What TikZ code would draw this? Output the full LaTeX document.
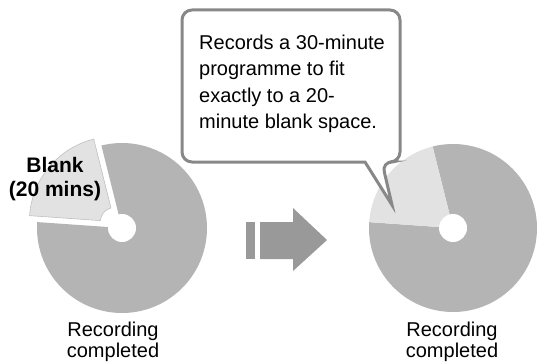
\documentclass[tikz,border=0pt]{standalone}
\usepackage{fontspec}
\setmainfont{Liberation Sans}
\definecolor{DiscGrey}{HTML}{B4B4B4}
\definecolor{BlankGrey}{HTML}{E2E2E2}
\definecolor{ArrowGrey}{HTML}{999999}
\definecolor{CalloutGrey}{HTML}{888888}
\usetikzlibrary{calc}
\tikzset{
    recorded/.style={fill=DiscGrey},
    blank/.style={fill=BlankGrey},
    hole/.style={fill=white},
    caption/.style={font=\fontsize{20}{20.5}\selectfont, align=center, inner sep=0pt},
}

\begin{document}
\begin{tikzpicture}[x=1pt, y=1pt]
    \useasboundingbox (0,0) rectangle (537,362);

    % Before: blank part pulled out
    \begin{scope}[shift={(122,134)}]
        \fill[recorded] (0,0) -- (176:85) arc[start angle=176, end angle=464, radius=85] -- cycle;
        \fill[hole] (0,0) circle[radius=14];
        \filldraw[blank, draw=BlankGrey!85!black, line width=0.6] ($(140:10)+(104:14)$) -- ($(140:10)+(104:85)$)
            arc[start angle=104, end angle=176, radius=85] -- ($(140:10)+(176:14)$)
            arc[start angle=176, end angle=104, radius=14] -- cycle;
    \end{scope}
    \node[caption, font=\fontsize{21}{24}\selectfont\bfseries, anchor=north] (blanklabel) at (55,205) {Blank\\(20 mins)};
    \node[caption, anchor=north] (before) at (113,40) {Recording\\completed};

    % Arrow
    \fill[ArrowGrey] (246,103) rectangle (255,140);
    \fill[ArrowGrey] (260,103) -- (293,103) -- (293,91) -- (327,122) -- (293,154) -- (293,140) -- (260,140) -- cycle;

    % After: programme fills the blank
    \begin{scope}[shift={(453,134)}]
        \fill[recorded] (0,0) -- (176:84) arc[start angle=176, end angle=464, radius=84] -- cycle;
        \fill[blank] (0,0) -- (104:84) arc[start angle=104, end angle=176, radius=84] -- cycle;
        \fill[hole] (0,0) circle[radius=14];
        \coordinate (filled) at (-61,23);
    \end{scope}
    \node[caption, anchor=north] (after) at (452,40) {Recording\\completed};

    % Callout
    \draw[CalloutGrey, line width=3, fill=white] (291,200) [rounded corners=10] -- (182,200) -- (182,352)
        -- (400,352) -- (400,200) -- (382,200) [sharp corners] -- (filled) -- (365,200) -- cycle;
    \node[caption, font=\fontsize{20}{26.5}\selectfont, align=left, anchor=north west] (note) at (199,327.5)
        {Records a 30-minute\\programme to fit\\exactly to a 20-\\minute blank space.};
\end{tikzpicture}
\end{document}
